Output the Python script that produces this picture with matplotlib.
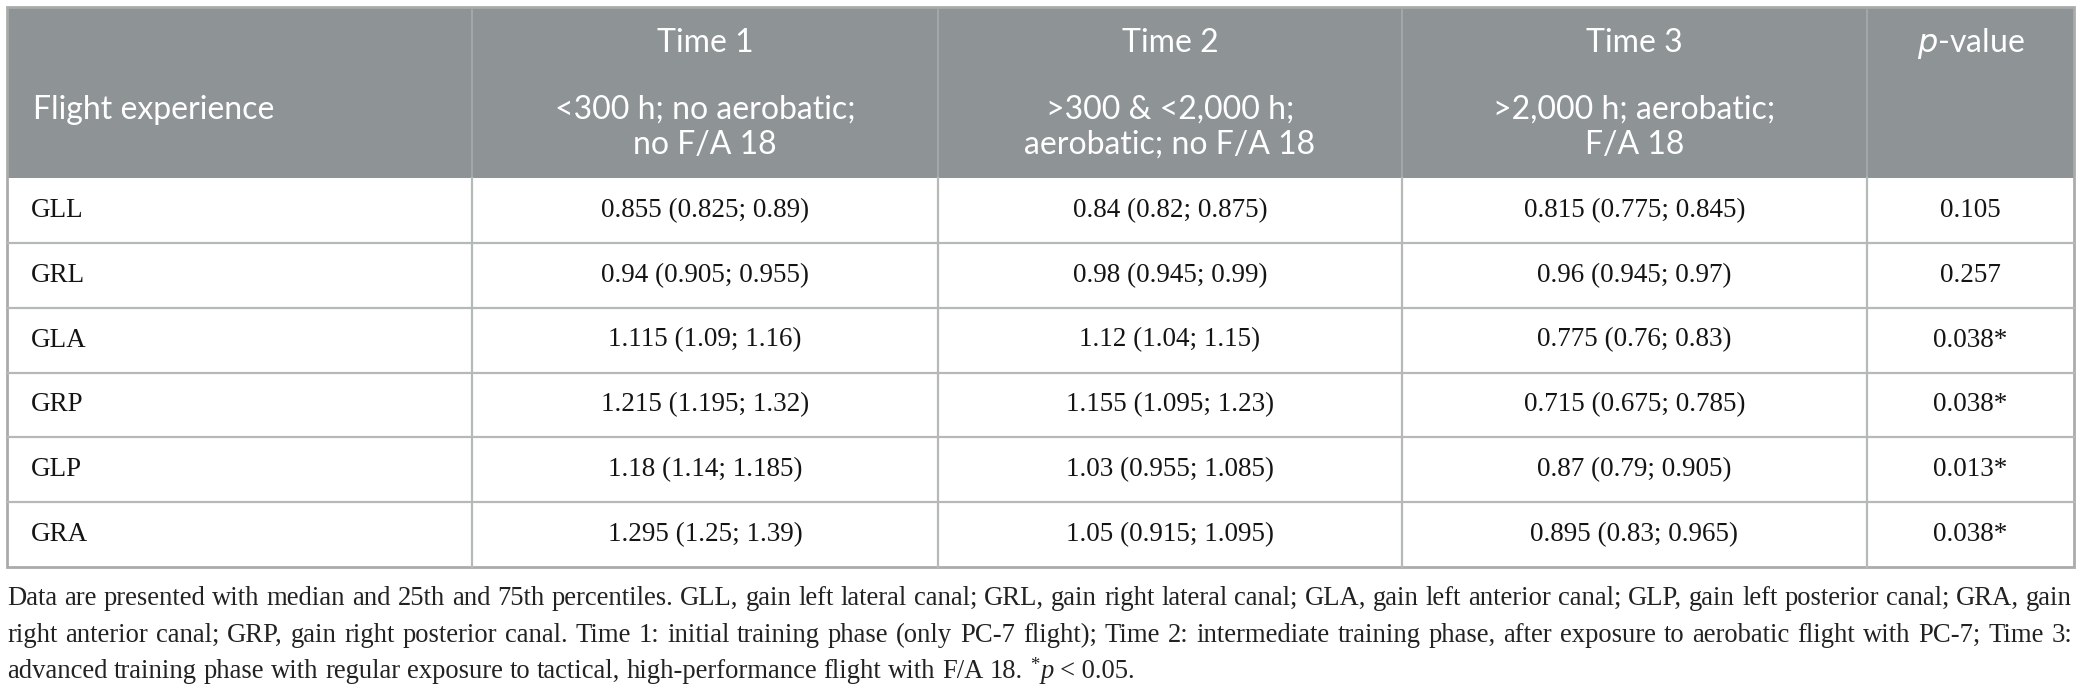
import matplotlib
matplotlib.use("Agg")
import matplotlib.pyplot as plt
from matplotlib.patches import Rectangle

# ---- data ----
params = ["GLL", "GRL", "GLA", "GRP", "GLP", "GRA"]
t1_med = [0.855, 0.94, 1.115, 1.215, 1.18, 1.295]
t1_q25 = [0.825, 0.905, 1.09, 1.195, 1.14, 1.25]
t1_q75 = [0.89, 0.955, 1.16, 1.32, 1.185, 1.39]
t2_med = [0.84, 0.98, 1.12, 1.155, 1.03, 1.05]
t2_q25 = [0.82, 0.945, 1.04, 1.095, 0.955, 0.915]
t2_q75 = [0.875, 0.99, 1.15, 1.23, 1.085, 1.095]
t3_med = [0.815, 0.96, 0.775, 0.715, 0.87, 0.895]
t3_q25 = [0.775, 0.945, 0.76, 0.675, 0.79, 0.83]
t3_q75 = [0.845, 0.97, 0.83, 0.785, 0.905, 0.965]
p_values = [0.105, 0.257, 0.038, 0.038, 0.013, 0.038]

time_titles = ["Time 1", "Time 2", "Time 3"]
time_desc = [["<300 h; no aerobatic;", "no F/A 18"],
             [">300 & <2,000 h;", "aerobatic; no F/A 18"],
             [">2,000 h; aerobatic;", "F/A 18"]]
first_header = "Flight experience"

caption = [
    "Data are presented with median and 25th and 75th percentiles. GLL, gain left lateral canal; GRL, gain right "
    "lateral canal; GLA, gain left anterior canal; GLP, gain left posterior canal; GRA, gain",
    "right anterior canal; GRP, gain right posterior canal. Time 1: initial training phase (only PC-7 flight); "
    "Time 2: intermediate training phase, after exposure to aerobatic flight with PC-7; Time 3:",
    "advanced training phase with regular exposure to tactical, high-performance flight with F/A 18.",
]

# ---- layout (pixels) ----
W, H = 2083, 694
col_x = [7, 472, 938, 1402, 1867, 2074]
top, head_bot, bot = 7, 178, 567
row_h = (bot - head_bot) / len(params)

HEAD_BG = "#8e9395"
LINE = "#b6bab7"
SANS = "Lato"
SERIF = "Liberation Serif"
INK = "#141414"

fig = plt.figure(figsize=(W / 100, H / 100), dpi=100)
ax = fig.add_axes([0, 0, 1, 1])
ax.set_xlim(0, W); ax.set_ylim(H, 0); ax.axis("off")

ax.add_patch(Rectangle((col_x[0], top), col_x[-1] - col_x[0], head_bot - top,
                       facecolor=HEAD_BG, edgecolor="none"))
for x in col_x[1:-1]:
    ax.plot([x, x], [top + 3, head_bot], color="#a8acad", lw=1.2)
    ax.plot([x, x], [head_bot, bot], color=LINE, lw=1.6)
for i in range(1, len(params)):
    y = head_bot + i * row_h
    ax.plot([col_x[0], col_x[-1]], [y, y], color=LINE, lw=1.6)
ax.add_patch(Rectangle((col_x[0], top), col_x[-1] - col_x[0], bot - top,
                       facecolor="none", edgecolor="#a9ada9", lw=2))

# header
ax.text(33, 110, first_header, color="white", fontsize=23, family=SANS,
        ha="left", va="center")
for j in range(3):
    cx = (col_x[j + 1] + col_x[j + 2]) / 2
    ax.text(cx, 43, time_titles[j], color="white", fontsize=23, family=SANS,
            ha="center", va="center")
    for k, line in enumerate(time_desc[j]):
        ax.text(cx, 110 + 35 * k, line, color="white", fontsize=23, family=SANS,
                ha="center", va="center")
ax.text((col_x[4] + col_x[5]) / 2, 43, "$\\it{p}$-value", color="white", fontsize=23,
        family=SANS, ha="center", va="center")

# body
cols = [(t1_med, t1_q25, t1_q75), (t2_med, t2_q25, t2_q75), (t3_med, t3_q25, t3_q75)]
for i, name in enumerate(params):
    cy = head_bot + (i + 0.5) * row_h
    ax.text(31, cy, name, fontsize=19.5, family=SERIF, color=INK, ha="left", va="center")
    for j, (m, lo, hi) in enumerate(cols):
        cx = (col_x[j + 1] + col_x[j + 2]) / 2
        ax.text(cx, cy, f"{m[i]:g} ({lo[i]:g}; {hi[i]:g})", fontsize=19.5, family=SERIF,
                color=INK, ha="center", va="center")
    star = "*" if p_values[i] < 0.05 else ""
    ax.text((col_x[4] + col_x[5]) / 2, cy, f"{p_values[i]:.3f}{star}", fontsize=19.5,
            family=SERIF, color=INK, ha="center", va="center")

# caption, justified except last line
fig.canvas.draw()
rend = fig.canvas.get_renderer()
CAP_FS = 19.2
x0, x1 = 7, 2072
baselines = [605, 642, 678]


def width(t):
    return t.get_window_extent(rend).width


probe2 = ax.text(0, 0, "a a", fontsize=CAP_FS, family=SERIF, alpha=0)
probe1 = ax.text(0, 0, "a", fontsize=CAP_FS, family=SERIF, alpha=0)
sp = width(probe2) - 2 * width(probe1)
probe2.remove(); probe1.remove()

for li, line in enumerate(caption):
    words = line.split(" ")
    objs = [ax.text(0, baselines[li], w, fontsize=CAP_FS, family=SERIF, color="#222222",
                    ha="left", va="baseline") for w in words]
    ws = [width(o) for o in objs]
    if li < len(caption) - 1:
        gap = (x1 - x0 - sum(ws)) / (len(words) - 1)
    else:
        gap = sp
    x = x0
    for o, w in zip(objs, ws):
        o.set_x(x)
        x += w + gap
    if li == len(caption) - 1:
        st = ax.text(x, baselines[li] - 8, "*", fontsize=CAP_FS * 0.7, family=SERIF,
                     color="#222222", ha="left", va="baseline")
        x += width(st) + 1
        pt = ax.text(x, baselines[li], "p", fontsize=CAP_FS, family=SERIF, style="italic",
                     color="#222222", ha="left", va="baseline")
        x += width(pt) + gap
        ax.text(x, baselines[li], "< 0.05.", fontsize=CAP_FS, family=SERIF,
                color="#222222", ha="left", va="baseline")

fig.savefig("out.png", dpi=100)
